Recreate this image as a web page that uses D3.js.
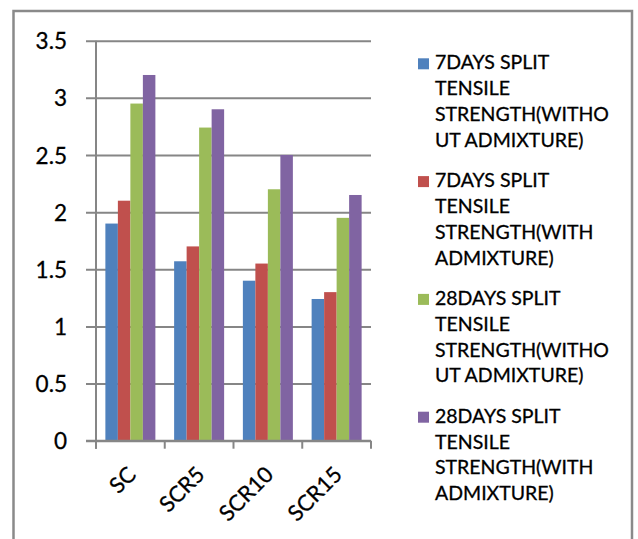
<!DOCTYPE html>
<html>
<head>
<meta charset="utf-8">
<script src="https://cdn.jsdelivr.net/npm/d3@7"></script>
<style>
  html, body { margin: 0; padding: 0; background: #fff; }
  svg { display: block; }
  text { font-family: Lato, "Open Sans", sans-serif; fill: #000; stroke: #000; stroke-width: 0.3px; }
</style>
</head>
<body>
<svg id="chart" width="638" height="539"></svg>
<script>
// Split tensile strength by mix
const categories = ["SC", "SCR5", "SCR10", "SCR15"];
const days7Without = [1.9, 1.57, 1.4, 1.24];
const days7With = [2.1, 1.7, 1.55, 1.3];
const days28Without = [2.95, 2.74, 2.2, 1.95];
const days28With = [3.2, 2.9, 2.5, 2.15];
const seriesNames = [
  "7DAYS SPLIT TENSILE STRENGTH(WITHOUT ADMIXTURE)",
  "7DAYS SPLIT TENSILE STRENGTH(WITH ADMIXTURE)",
  "28DAYS SPLIT TENSILE STRENGTH(WITHOUT ADMIXTURE)",
  "28DAYS SPLIT TENSILE STRENGTH(WITH ADMIXTURE)"
];
const legendLines = [
  ["7DAYS SPLIT", "TENSILE", "STRENGTH(WITHO", "UT ADMIXTURE)"],
  ["7DAYS SPLIT", "TENSILE", "STRENGTH(WITH", "ADMIXTURE)"],
  ["28DAYS SPLIT", "TENSILE", "STRENGTH(WITHO", "UT ADMIXTURE)"],
  ["28DAYS SPLIT", "TENSILE", "STRENGTH(WITH", "ADMIXTURE)"]
];
const yTicks = [0, 0.5, 1, 1.5, 2, 2.5, 3, 3.5];
const yTickLabels = ["0", "0.5", "1", "1.5", "2", "2.5", "3", "3.5"];
const seriesValues = [days7Without, days7With, days28Without, days28With];
const colors = ["#4F81BD", "#C0504D", "#9BBB59", "#8064A2"];

const svg = d3.select("#chart");
const gridColor = "#868686";

// outer frame
svg.append("rect")
  .attr("x", 13.5).attr("y", 11)
  .attr("width", 618.5).attr("height", 540)
  .attr("fill", "none").attr("stroke", "#8a8a8a").attr("stroke-width", 2.5);

const plot = { left: 96, right: 371, top: 40.7, bottom: 440.7 };

const y = d3.scaleLinear().domain([0, 3.5]).range([plot.bottom, plot.top]);
const x0 = d3.scaleBand().domain(categories).range([plot.left, plot.right]);
const step = x0.bandwidth();
const gap = step * 1.5 / 5.5;
const x1 = d3.scaleBand().domain(d3.range(seriesValues.length))
  .range([gap / 2, step - gap / 2]);

// horizontal gridlines (extend left of the axis as tick marks)
const grid = svg.append("g")
  .attr("transform", `translate(${plot.right},0)`)
  .call(d3.axisLeft(y).tickValues(yTicks).tickSize(plot.right - plot.left + 10).tickFormat(""));
grid.select(".domain").remove();
grid.selectAll(".tick line").attr("stroke", gridColor).attr("stroke-width", 2);

// y tick labels
const yLab = svg.append("g")
  .attr("transform", "translate(67,0)")
  .call(d3.axisLeft(y).tickValues(yTicks).tickSize(0).tickPadding(0)
    .tickFormat((d, i) => yTickLabels[i]));
yLab.select(".domain").remove();
yLab.selectAll(".tick text")
  .attr("font-family", "Lato, sans-serif")
  .attr("font-size", 22.5).attr("fill", "#000").attr("dy", "0.36em");

// bars
const groups = svg.append("g").selectAll("g")
  .data(categories)
  .join("g")
  .attr("transform", d => `translate(${x0(d)},0)`);
groups.selectAll("rect")
  .data((c, ci) => seriesValues.map((s, si) => ({ si, v: s[ci] })))
  .join("rect")
  .attr("x", d => x1(d.si))
  .attr("width", x1.bandwidth())
  .attr("y", d => y(d.v))
  .attr("height", d => y(0) - y(d.v))
  .attr("fill", d => colors[d.si]);

// vertical axis line
svg.append("line")
  .attr("x1", plot.left).attr("x2", plot.left)
  .attr("y1", plot.top).attr("y2", plot.bottom + 8)
  .attr("stroke", gridColor).attr("stroke-width", 2);

// category axis: baseline and ticks between categories
svg.append("line")
  .attr("x1", plot.left - 10).attr("x2", plot.right)
  .attr("y1", y(0)).attr("y2", y(0))
  .attr("stroke", gridColor).attr("stroke-width", 2);
const edges = categories.map(c => x0(c)).concat([plot.right]);
svg.append("g").selectAll("line")
  .data(edges)
  .join("line")
  .attr("x1", d => d).attr("x2", d => d)
  .attr("y1", y(0)).attr("y2", y(0) + 8)
  .attr("stroke", gridColor).attr("stroke-width", 2);

// rotated category labels
svg.append("g").selectAll("text")
  .data(categories)
  .join("text")
  .attr("transform", d => `translate(${x0(d) + step / 2 + 7},476) rotate(-45)`)
  .attr("text-anchor", "end")
  .attr("font-size", 22)
  .text(d => d);

// legend
const legend = svg.append("g");
legendLines.forEach((lines, i) => {
  const baseY = 69.3 + i * 117.8;
  legend.append("rect")
    .attr("x", 418).attr("y", baseY - 11)
    .attr("width", 11).attr("height", 11)
    .attr("fill", colors[i])
    .append("title").text(seriesNames[i]);
  const t = legend.append("text")
    .attr("x", 435).attr("y", baseY)
    .attr("font-size", 19.5);
  lines.forEach((ln, j) => {
    t.append("tspan").attr("x", 435).attr("y", baseY + j * 25.8).text(ln);
  });
});
</script>
</body>
</html>
